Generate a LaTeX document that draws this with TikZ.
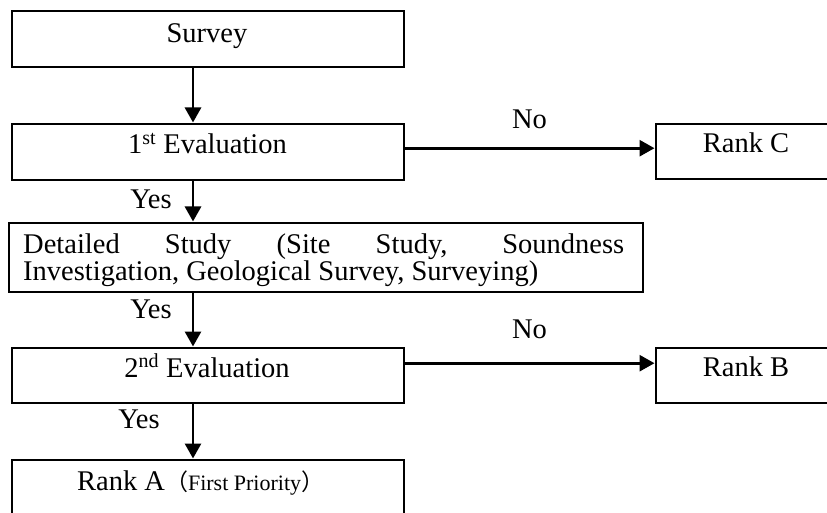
\documentclass[tikz,border=0pt]{standalone}
\usepackage{fontspec}
\setmainfont{Liberation Serif}
\newfontfamily\cjk{Noto Sans CJK SC}
\usetikzlibrary{arrows.meta}
\begin{document}
\begin{tikzpicture}[x=1pt,y=-1pt,
  box/.style={draw, line width=2.4pt, minimum width=392pt, minimum height=56pt, anchor=north west, inner sep=0pt},
  rankbox/.style={box, minimum width=182pt, minimum height=55pt},
  txt/.style={anchor=base, inner sep=0pt, font=\fontsize{28.5}{30}\selectfont},
  arr/.style={line width=2.8pt, -{Triangle[length=15pt,width=16pt]}, shorten >=0.5pt}]
\useasboundingbox (0,0) rectangle (827,513);
\fill[white] (0,0) rectangle (827,513);
\clip (0,0) rectangle (827,513);
% boxes
\node[box] (sv) at (11,10) {};
\node[box] (e1) at (11,123) {};
\node[rankbox] (rc) at (655,123) {};
\node[box, minimum width=634pt, minimum height=69pt] (ds) at (8,222) {};
\node[box, minimum height=55pt] (e2) at (11,347) {};
\node[rankbox] (rb) at (655,347) {};
\node[box, minimum height=80pt] (ra) at (11,459) {};
% texts
\node[txt] (tsv) at (207,43) {Survey};
\node[txt] (te1) at (207.5,154) {1\textsuperscript{st} Evaluation};
\node[txt] (trc) at (746,153) {Rank C};
\begin{scope}
\clip (8,222) rectangle (642,288);
\node[txt, anchor=base west] (tds1) at (23,253) {\makebox[601pt][s]{Detailed Study (Site Study, Soundness}};
\node[txt, anchor=base west] (tds2) at (23,280) {Investigation, Geological Survey, Surveying)};
\end{scope}
\node[txt] (te2) at (207,377) {2\textsuperscript{nd} Evaluation};
\node[txt] (trb) at (746,376) {Rank B};
\node[txt, anchor=base west] (tra) at (77,490) {Rank A{\cjk\fontsize{23}{24}\selectfont （}{\fontsize{22}{24}\selectfont First Priority}{\cjk\fontsize{23}{24}\selectfont ）}};
% labels
\node[txt] (y1) at (151,208) {Yes};
\node[txt] (y2) at (151,318) {Yes};
\node[txt] (y3) at (139,428) {Yes};
\node[txt] (n1) at (529.5,129) {No};
\node[txt] (n2) at (529.5,338) {No};
% connectors
\coordinate (ax) at (193,0);
\draw[arr] (sv.south -| ax) -- (e1.north -| ax);
\draw[arr] (e1.south -| ax) -- (ds.north -| ax);
\draw[arr] (ds.south -| ax) -- (e2.north -| ax);
\draw[arr] (e2.south -| ax) -- (ra.north -| ax);
\draw[arr] ([yshift=4pt]e1.east) -- ([yshift=4pt]e1.east -| rc.west);
\draw[arr] ([yshift=12.5pt]e2.east) -- ([yshift=12.5pt]e2.east -| rb.west);
\end{tikzpicture}
\end{document}
